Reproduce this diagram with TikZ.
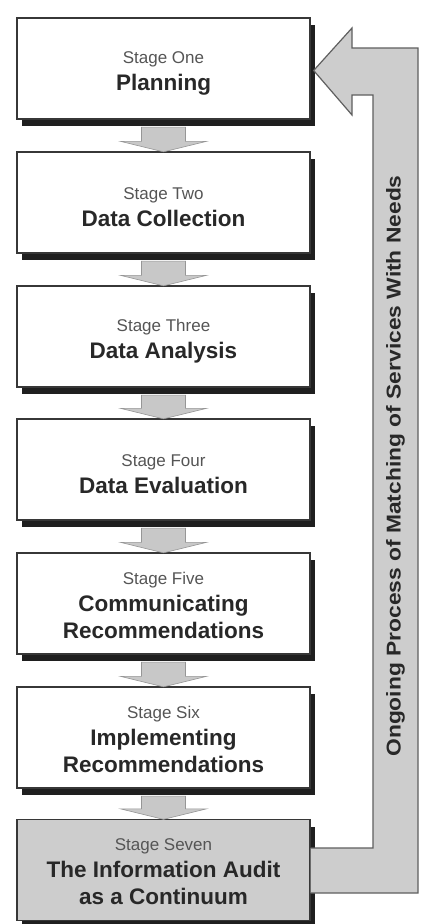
\documentclass[tikz,border=0pt]{standalone}
\usepackage{fontspec}
\setmainfont{Liberation Sans}
\usetikzlibrary{calc,shadows}

\definecolor{boxline}{RGB}{55,55,55}
\definecolor{textdark}{RGB}{40,40,40}
\definecolor{textsoft}{RGB}{85,85,85}
\definecolor{panelgray}{RGB}{205,205,205}
\definecolor{flowgray}{RGB}{200,200,200}
\definecolor{flowedge}{RGB}{150,150,150}
\definecolor{bandedge}{RGB}{95,95,95}

% first line of a stage box; the optional strut height pushes the block down a little
\newcommand{\stagelabel}[2][0pt]{\rule{0pt}{#1}{\fontsize{17}{20}\selectfont\mdseries\color{textsoft}#2}}

\tikzset{
  stagebox/.style={draw=boxline, line width=1.3pt, fill=white,
    minimum width=293pt, minimum height=101pt, inner sep=0pt,
    align=center, text=textdark,
    font=\fontsize{22.5}{27}\selectfont\bfseries,
    drop shadow={shadow xshift=5pt, shadow yshift=-7pt, fill=black!88, opacity=1}},
  finalbox/.style={stagebox, fill=panelgray},
  flowarrow/.style={fill=flowgray, draw=flowedge, line width=0.6pt, line join=miter},
  bandfill/.style={fill=panelgray},
  bandline/.style={draw=bandedge, line width=1.2pt, line join=miter},
  bandtext/.style={text=textdark, font=\fontsize{20}{24}\selectfont\bfseries, inner sep=0pt}
}

\newcommand{\flowdown}[2]{%
  \path[flowarrow]
    ($(#1.south)+(-22,7.5)$) -- ($(#2.north)+(-22,-10)$) -- ($(#2.north)+(-43,-10)$)
    -- ($(#2.north)+(0,0.5)$) -- ($(#2.north)+(43,-10)$) -- ($(#2.north)+(22,-10)$)
    -- ($(#1.south)+(22,7.5)$) -- cycle;}

\begin{document}
\begin{tikzpicture}[x=1pt,y=-1pt]
  \useasboundingbox (0,0) rectangle (444,924);
  \fill[white] (0,0) rectangle (444,924);

  % the seven stages
  \node[stagebox] (s1) at (163.5,68.5)  {\stagelabel[22pt]{Stage One}\\Planning};
  \node[stagebox] (s2) at (163.5,202.5) {\stagelabel[22pt]{Stage Two}\\Data Collection};
  \node[stagebox] (s3) at (163.5,336.5) {\stagelabel[22pt]{Stage Three}\\Data Analysis};
  \node[stagebox] (s4) at (163.5,469.5) {\stagelabel[22pt]{Stage Four}\\Data Evaluation};
  \node[stagebox] (s5) at (163.5,603.5) {\stagelabel[16pt]{Stage Five}\\Communicating\\Recommendations};
  \node[stagebox] (s6) at (163.5,737.5) {\stagelabel[16pt]{Stage Six}\\Implementing\\Recommendations};
  \node[finalbox] (s7) at (163.5,870)   {\stagelabel[16pt]{Stage Seven}\\The Information Audit\\as a Continuum};

  % block arrows between consecutive stages
  \flowdown{s1}{s2}
  \flowdown{s2}{s3}
  \flowdown{s3}{s4}
  \flowdown{s4}{s5}
  \flowdown{s5}{s6}
  \flowdown{s6}{s7}

  % feedback loop from the last stage back to planning
  \coordinate (b1) at ($(s7.east)+(0,-22)$);
  \coordinate (b2) at ($(s7.east)+(0,23)$);
  \coordinate (tip) at ($(s1.east)+(3,2)$);
  \fill[bandfill] (b1) -| (373,95) -- (352,95) -- (352,115) -- (tip)
    -- (352,28) -- (352,48) -- (418,48) |- (b2) -- cycle;
  \draw[bandline] (b1) -| (373,95) -- (352,95) -- (352,115) -- (tip)
    -- (352,28) -- (352,48) -- (418,48) |- (b2);

  \node[bandtext, rotate=90] (loop) at (395.5,466)
    {\scalebox{1.14}[1]{Ongoing Process of Matching of Services With Needs}};
\end{tikzpicture}
\end{document}
